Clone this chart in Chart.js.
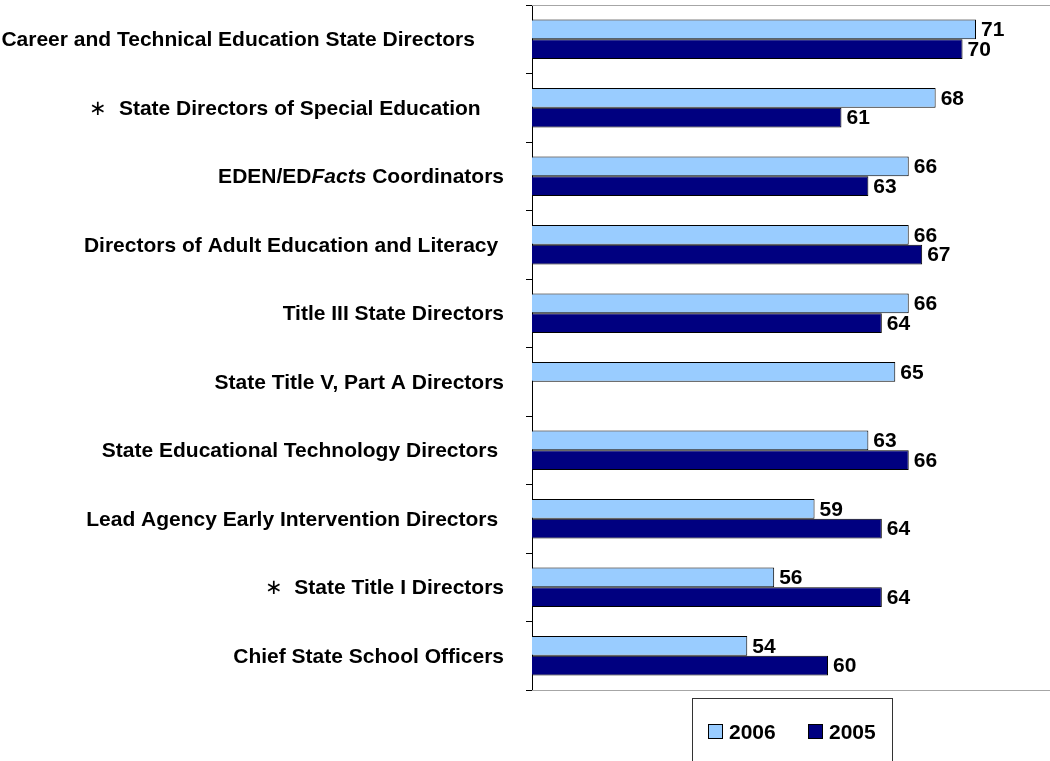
<!DOCTYPE html>
<html>
<head>
<meta charset="utf-8">
<title>Survey results by respondent group</title>
<script src="https://cdn.jsdelivr.net/npm/chart.js@4.4.1/dist/chart.umd.min.js"></script>
<style>
  body { margin: 0; background: #fff; }
  canvas { display: block; }
</style>
</head>
<body>
<canvas id="groupChart" width="1050" height="761"></canvas>
<script>
// Respondent groups, top to bottom (trailing spaces kept as in the source sheet)
const categories = [
  'Career and Technical Education State Directors     ',
  '\u2217  State Directors of Special Education    ',
  'EDEN/EDFacts Coordinators',
  'Directors of Adult Education and Literacy ',
  'Title III State Directors',
  'State Title V, Part A Directors',
  'State Educational Technology Directors ',
  'Lead Agency Early Intervention Directors ',
  '\u2217  State Title I Directors',
  'Chief State School Officers'
];
const values2006 = [71, 68, 66, 66, 66, 65, 63, 59, 56, 54];
const values2005 = [70, 61, 63, 67, 64, null, 66, 64, 64, 60];
const seriesNames = ['2006', '2005'];

const labelFont = 'bold 21px "Liberation Sans", Arial, sans-serif';
// pieces of a label that get their own font
const specialFonts = {
  '\u2217': 'normal 21px "Liberation Sans", Arial, sans-serif',
  'Facts': 'italic bold 21px "Liberation Sans", Arial, sans-serif'
};

function splitLabel(text) {
  let parts = [{ text: text, font: labelFont }];
  for (const key in specialFonts) {
    const next = [];
    for (const p of parts) {
      if (p.font !== labelFont) { next.push(p); continue; }
      const bits = p.text.split(key);
      bits.forEach((b, i) => {
        if (b) next.push({ text: b, font: labelFont });
        if (i < bits.length - 1) next.push({ text: key, font: specialFonts[key] });
      });
    }
    parts = next;
  }
  return parts;
}

// category names on the left, right aligned against the axis
const categoryLabels = {
  id: 'categoryLabels',
  afterDraw(chart) {
    const ctx = chart.ctx;
    const yScale = chart.scales.y;
    const right = chart.chartArea.left - 28;
    ctx.save();
    ctx.fillStyle = '#000';
    ctx.textBaseline = 'middle';
    chart.data.labels.forEach((label, i) => {
      const y = yScale.getPixelForTick(i) + 1;
      const parts = splitLabel(label);
      let total = 0;
      parts.forEach(p => { ctx.font = p.font; p.w = ctx.measureText(p.text).width; total += p.w; });
      let x = right - total;
      parts.forEach(p => { ctx.font = p.font; ctx.fillText(p.text, x, y); x += p.w; });
    });
    ctx.restore();
  }
};

// value next to the end of each bar
const valueLabels = {
  id: 'valueLabels',
  afterDatasetsDraw(chart) {
    const ctx = chart.ctx;
    ctx.save();
    ctx.font = labelFont;
    ctx.fillStyle = '#000';
    ctx.textBaseline = 'middle';
    chart.data.datasets.forEach((ds, d) => {
      chart.getDatasetMeta(d).data.forEach((bar, i) => {
        if (ds.data[i] == null) return;
        ctx.fillText(ds.data[i], bar.x + 5, bar.y + 1);
      });
    });
    ctx.restore();
  }
};

// thin grey lines along top and bottom of the plot area
const plotFrame = {
  id: 'plotFrame',
  beforeDatasetsDraw(chart) {
    const a = chart.chartArea;
    const ctx = chart.ctx;
    ctx.save();
    ctx.strokeStyle = '#a6a6a6';
    ctx.lineWidth = 1;
    ctx.beginPath();
    ctx.moveTo(a.left, a.top + 0.5); ctx.lineTo(a.right, a.top + 0.5);
    ctx.moveTo(a.left, a.bottom + 0.5); ctx.lineTo(a.right, a.bottom + 0.5);
    ctx.stroke();
    ctx.restore();
  }
};

// boxed legend under the plot
const boxLegend = {
  id: 'boxLegend',
  afterDraw(chart) {
    const ctx = chart.ctx;
    ctx.save();
    ctx.strokeStyle = '#333';
    ctx.lineWidth = 1;
    ctx.strokeRect(692.5, 698.5, 200, 80);
    ctx.font = labelFont;
    ctx.textBaseline = 'middle';
    chart.data.datasets.forEach((ds, i) => {
      const x = 708 + i * 100;
      ctx.fillStyle = ds.backgroundColor;
      ctx.fillRect(x, 724, 15, 15);
      ctx.strokeStyle = '#000';
      ctx.strokeRect(x + 0.5, 724.5, 14, 14);
      ctx.fillStyle = '#000';
      ctx.fillText(ds.label, x + 21, 733);
    });
    ctx.restore();
  }
};

new Chart(document.getElementById('groupChart'), {
  type: 'bar',
  data: {
    labels: categories,
    datasets: [
      { label: seriesNames[0], data: values2006, backgroundColor: '#99ccff', borderColor: '#000', borderWidth: 1 },
      { label: seriesNames[1], data: values2005, backgroundColor: '#000080', borderColor: '#000', borderWidth: 1 }
    ]
  },
  options: {
    indexAxis: 'y',
    responsive: false,
    animation: false,
    categoryPercentage: 0.58,
    barPercentage: 1,
    layout: { padding: { left: 524, top: 5, bottom: 71, right: 0 } },
    plugins: { legend: { display: false }, tooltip: { enabled: false } },
    scales: {
      x: { display: false, min: 38, max: 76.5 },
      y: {
        afterFit(scale) { scale.width = 8; },
        ticks: { display: false },
        grid: { offset: true, drawOnChartArea: false, tickLength: 6, color: '#000' },
        border: { color: '#000', width: 1 }
      }
    }
  },
  plugins: [plotFrame, valueLabels, categoryLabels, boxLegend]
});
</script>
</body>
</html>
